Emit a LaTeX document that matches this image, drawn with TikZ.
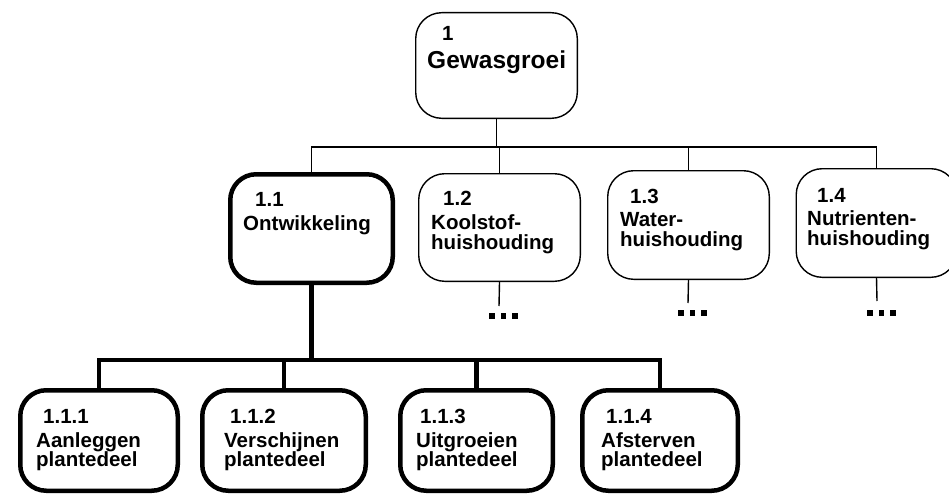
\documentclass[tikz,border=0pt]{standalone}
\usepackage{fontspec}
\setmainfont{Liberation Sans}
\begin{document}
\begin{tikzpicture}[x=1pt,y=-1pt,
  thinbox/.style={draw,line width=1.4pt,rounded corners=26pt,inner sep=0pt},
  thickbox/.style={draw,line width=4.5pt,rounded corners=26pt,inner sep=0pt},
  thinline/.style={line width=1.4pt},
  thickline/.style={line width=4.5pt},
  lbl/.style={anchor=base west,inner sep=0pt,font=\bfseries\fontsize{20.5}{23}\selectfont},
  biglbl/.style={anchor=base west,inner sep=0pt,font=\bfseries\fontsize{24.5}{28}\selectfont},
  dotsq/.style={fill=black}]
\useasboundingbox (0,0) rectangle (949,495);
% boxes
\node[thinbox,minimum width=161.6pt,minimum height=105.6pt] (g) at (496.5,65.5) {};
\node[thickbox,minimum width=162.5pt,minimum height=108.5pt] (n11) at (311.5,228.5) {};
\node[thinbox,minimum width=161.6pt,minimum height=107.6pt] (n12) at (499.5,227.5) {};
\node[thinbox,minimum width=161.6pt,minimum height=108.6pt] (n13) at (688.5,225) {};
\node[thinbox,minimum width=160.6pt,minimum height=108.6pt] (n14) at (876.5,223) {};
\node[thickbox,minimum width=157.5pt,minimum height=100.5pt] (n111) at (99,440.5) {};
\node[thickbox,minimum width=163.5pt,minimum height=100.5pt] (n112) at (284,440.5) {};
\node[thickbox,minimum width=152.5pt,minimum height=100.5pt] (n113) at (476.5,440.5) {};
\node[thickbox,minimum width=155.5pt,minimum height=100.5pt] (n114) at (660,440.5) {};
% texts
\node[lbl] (tg1) at (442,41) {1};
\node[biglbl] (tg2) at (427,68) {Gewasgroei};
\node[lbl] (t11a) at (255,206) {1.1};
\node[lbl] (t11b) at (243,230) {Ontwikkeling};
\node[lbl] (t12a) at (443,205) {1.2};
\node[lbl] (t12b) at (431,229) {Koolstof-};
\node[lbl] (t12c) at (431,249) {huishouding};
\node[lbl] (t13a) at (630,203) {1.3};
\node[lbl] (t13b) at (620,226) {Water-};
\node[lbl] (t13c) at (620,246) {huishouding};
\node[lbl] (t14a) at (817,202) {1.4};
\node[lbl] (t14b) at (807,225) {Nutrienten-};
\node[lbl] (t14c) at (807,245) {huishouding};
\node[lbl] (t111a) at (43,423) {1.1.1};
\node[lbl] (t111b) at (36,447) {Aanleggen};
\node[lbl] (t111c) at (36,466) {plantedeel};
\node[lbl] (t112a) at (230,423) {1.1.2};
\node[lbl] (t112b) at (224,447) {Verschijnen};
\node[lbl] (t112c) at (224,466) {plantedeel};
\node[lbl] (t113a) at (420,423) {1.1.3};
\node[lbl] (t113b) at (416,447) {Uitgroeien};
\node[lbl] (t113c) at (416,466) {plantedeel};
\node[lbl] (t114a) at (606,423) {1.1.4};
\node[lbl] (t114b) at (601,447) {Afsterven};
\node[lbl] (t114c) at (601,466) {plantedeel};
% bus coordinates
\coordinate (bus1) at (0,147);
\coordinate (bus2) at (0,360);
% thin tree
\draw[thinline] (g.south) -- (g.south |- bus1);
\draw[thinline] (n11.north) -- (n11.north |- bus1) -- (n14.north |- bus1) -- (n14.north);
\draw[thinline] (n12.north) -- (n12.north |- bus1);
\draw[thinline] (n13.north) -- (n13.north |- bus1);
% thick tree
\draw[thickline] (n11.south) -- (n11.south |- bus2);
\draw[thickline] (n111.north) -- (n111.north |- bus2) -- (n114.north |- bus2) -- (n114.north);
\draw[thickline] (n112.north) -- (n112.north |- bus2);
\draw[thickline] (n113.north) -- (n113.north |- bus2);
% continuation stubs and dots
\coordinate (e12) at (499,306);
\coordinate (e13) at (688,303);
\coordinate (e14) at (877,301);
\draw[thinline] (n12.south) -- (e12);
\draw[thinline] (n13.south) -- (e13);
\draw[thinline] (n14.south) -- (e14);
\foreach \c/\dy in {e12/10,e13/10,e14/12}{
  \foreach \dx in {-7,4.5,16}{
    \fill[dotsq] ([shift={(\dx-2.6,\dy-2.6)}]\c) rectangle ([shift={(\dx+2.6,\dy+2.6)}]\c);
  }
}
\end{tikzpicture}
\end{document}
